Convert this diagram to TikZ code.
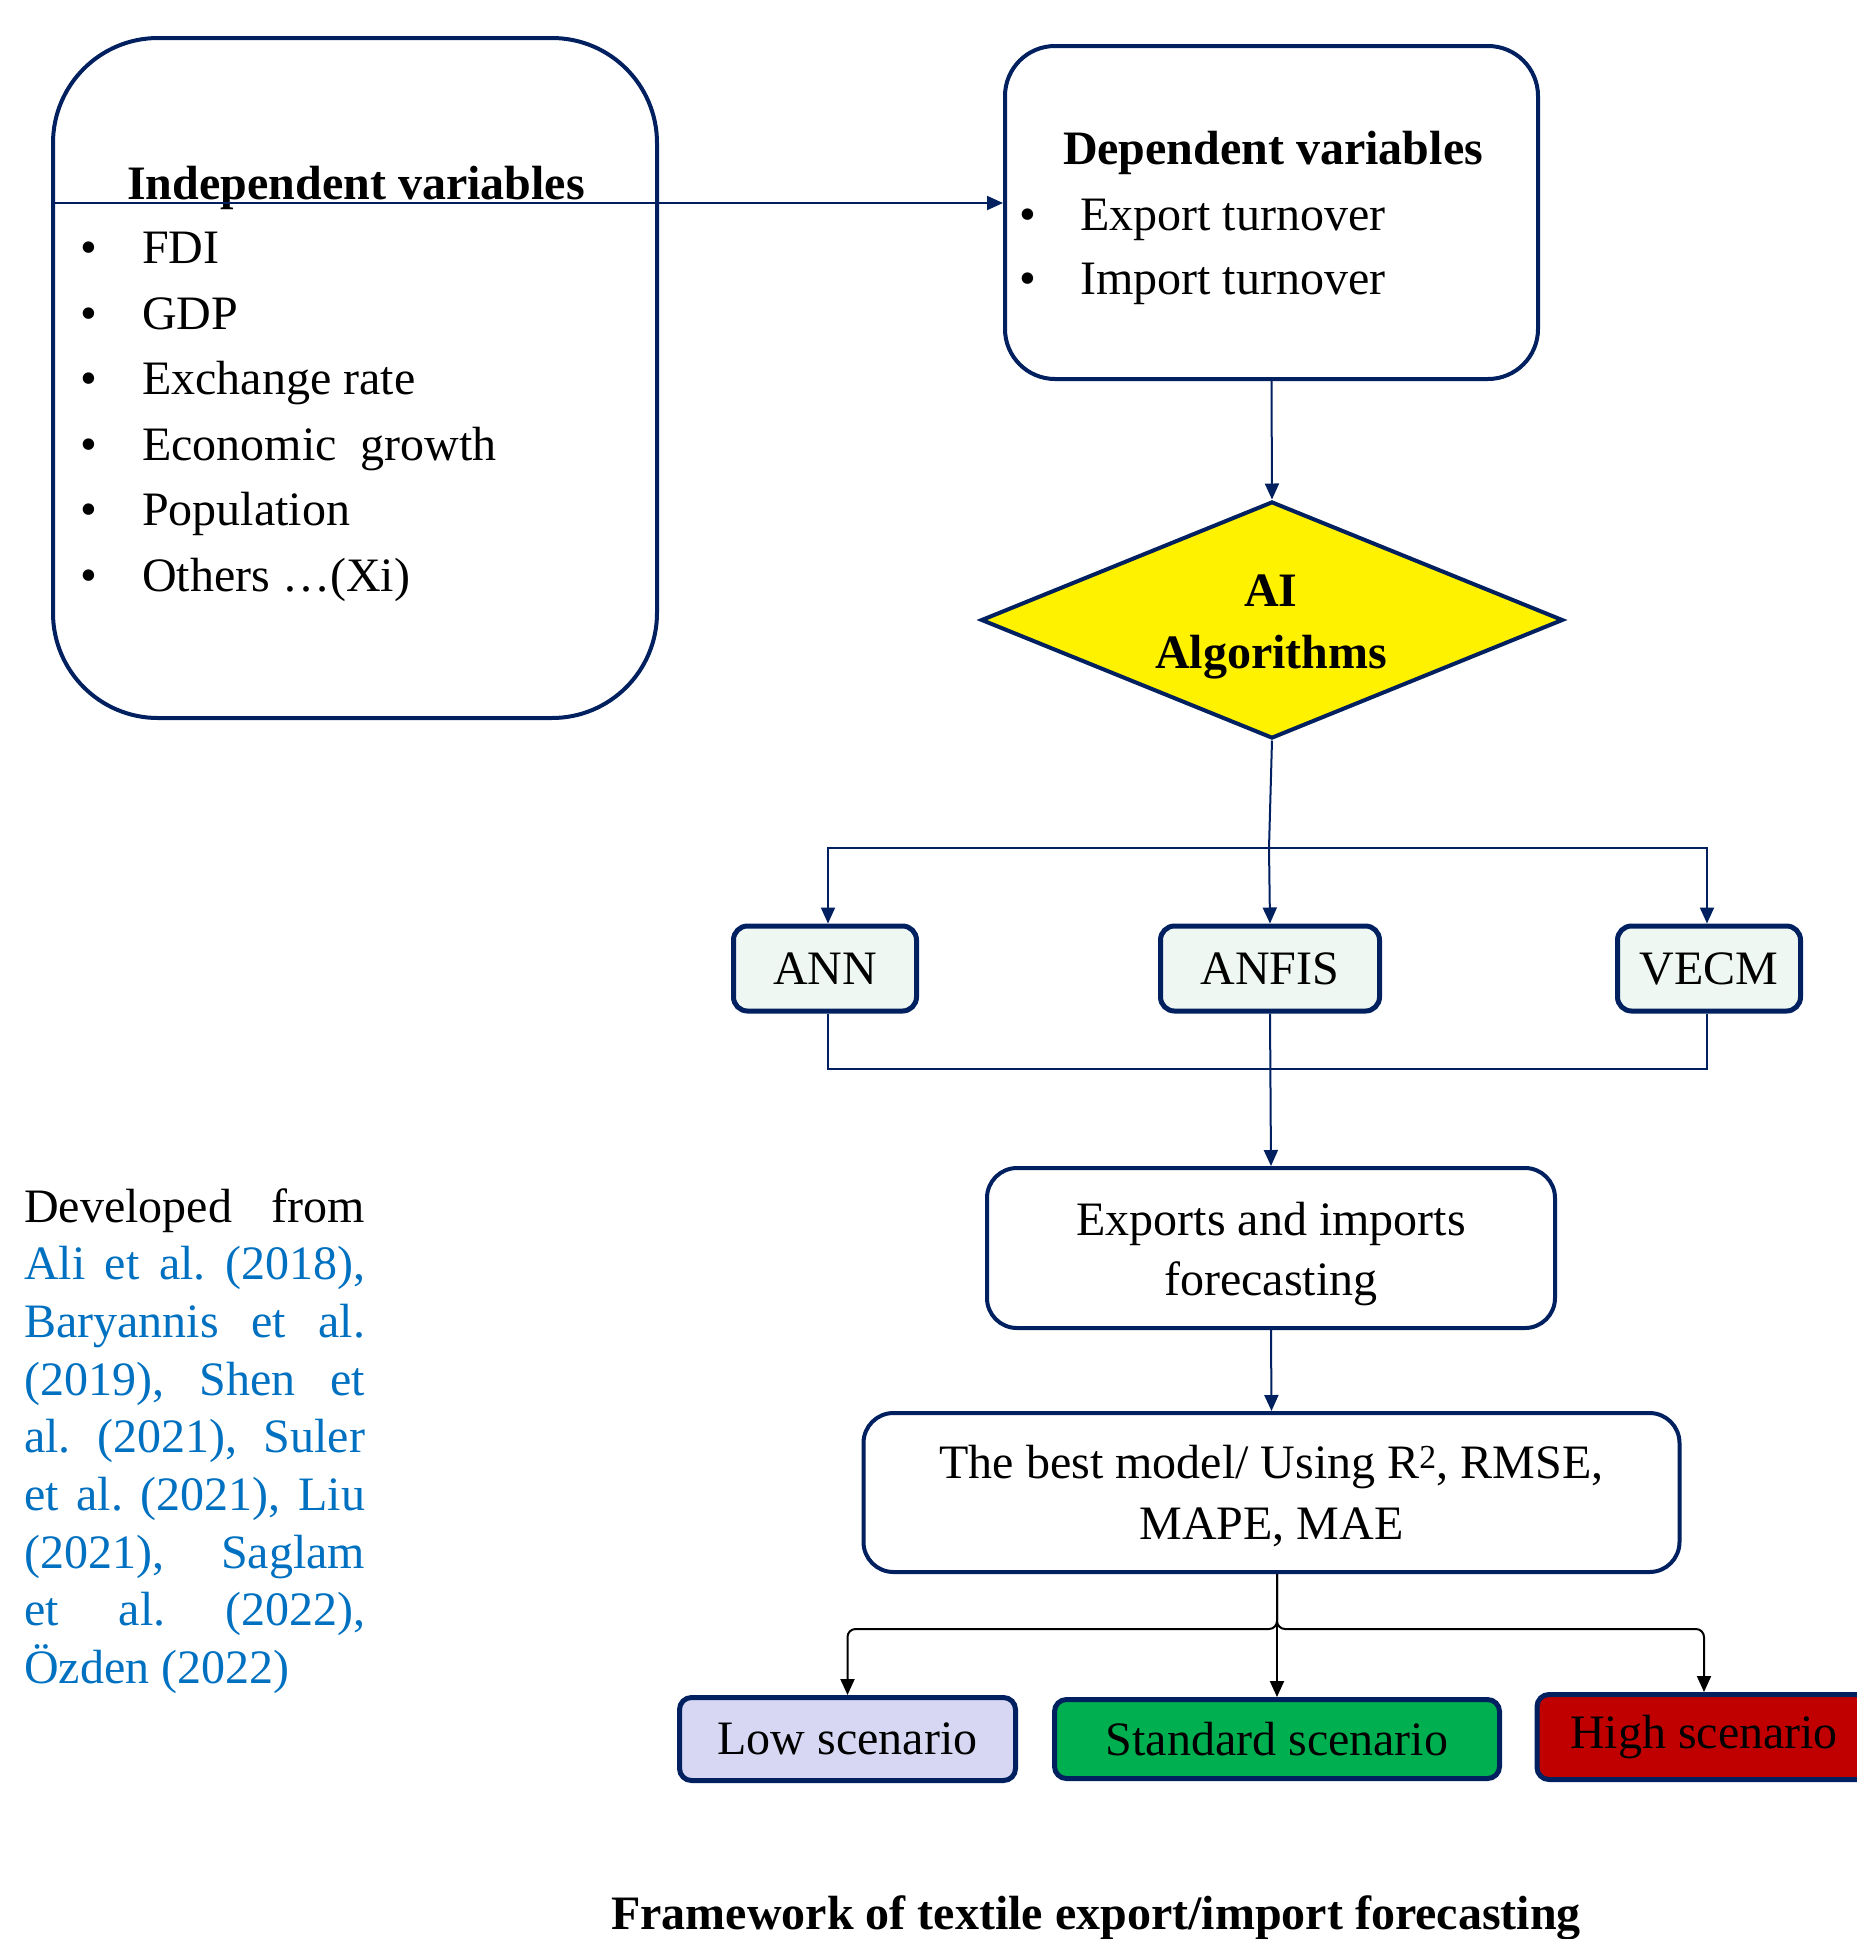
\documentclass[tikz,border=0pt]{standalone}
\usepackage{fontspec}
\setmainfont{Liberation Serif}
\usetikzlibrary{arrows.meta,shapes.geometric}
\definecolor{navy}{HTML}{002060}
\definecolor{mint}{HTML}{EEF7F2}
\definecolor{lavender}{HTML}{D7D7F4}
\definecolor{okgreen}{HTML}{00B050}
\definecolor{darkred}{HTML}{C00000}
\definecolor{refblue}{HTML}{0070C0}
\newcommand\jline[1]{\makebox[341pt][s]{#1}}
\frenchspacing
\begin{document}
\begin{tikzpicture}[x=1pt,y=-1pt,
  every node/.style={inner sep=0pt, font=\fontsize{48}{60}\selectfont},
  bold/.style={font=\fontsize{48}{60}\selectfont\bfseries},
  bigbox/.style={draw=navy, line width=4pt, rectangle, fill=white},
  smallbox/.style={draw=navy, line width=5pt, rectangle, rounded corners=14pt, minimum height=85pt},
  conn/.style={draw=navy, line width=2pt},
  arr/.style={conn, -{Triangle[length=16pt,width=14pt]}},
  barr/.style={draw=black, line width=2pt, -{Triangle[length=16pt,width=14pt]}},
  txt/.style={anchor=base west},
  ctxt/.style={anchor=base},
]
\useasboundingbox (0,0) rectangle (1857,1939);

% boxes
\node[bigbox, rounded corners=105pt, minimum width=604pt, minimum height=680pt] (indep) at (355,378) {};
\node[bigbox, rounded corners=50pt, minimum width=533pt, minimum height=333pt] (dep) at (1271.5,212.5) {};
\node[draw=navy, line width=4pt, shape=diamond, fill=yellow, minimum width=582pt, minimum height=237pt] (ai) at (1272,620) {};
\node[smallbox, fill=mint, minimum width=183pt] (ann) at (825,968.5) {ANN};
\node[smallbox, fill=mint, minimum width=219pt] (anfis) at (1270,968.5) {ANFIS};
\node[smallbox, fill=mint, minimum width=183pt] (vecm) at (1709,968.5) {VECM};
\node[bigbox, rounded corners=30pt, minimum width=568pt, minimum height=160pt] (fore) at (1271,1248) {};
\node[bigbox, rounded corners=30pt, minimum width=816pt, minimum height=159pt] (best) at (1271.5,1492.5) {};
\node[smallbox, fill=lavender, rounded corners=12pt, minimum width=336pt, minimum height=83pt] (low) at (847.5,1739) {Low scenario};
\node[smallbox, fill=okgreen, rounded corners=12pt, minimum width=445pt, minimum height=79pt] (std) at (1277,1739) {Standard scenario};
\node[smallbox, fill=darkred, rounded corners=12pt, minimum width=334pt, minimum height=85pt] (high) at (1704,1737) {High scenario};

% box texts
\node[ctxt] (f1) at (1271,1235) {Exports and imports};
\node[ctxt] (f2) at (1271,1295) {forecasting};
\node[ctxt] (b1) at (1271.5,1478) {The best model/ Using R\textsuperscript{2}, RMSE,};
\node[ctxt] (b2) at (1271.5,1539) {MAPE, MAE};

% independent variables text
\node[bold, ctxt] (indtitle) at (356,199) {Independent variables};
\node[ctxt] (ib1) at (89,263) {\textbullet};
\node[txt] (i1) at (142,263) {FDI};
\node[ctxt] (ib2) at (89,329) {\textbullet};
\node[txt] (i2) at (142,329) {GDP};
\node[ctxt] (ib3) at (89,394) {\textbullet};
\node[txt] (i3) at (142,394) {Exchange rate};
\node[ctxt] (ib4) at (89,460) {\textbullet};
\node[txt] (i4) at (142,460) {Economic\ \ growth};
\node[ctxt] (ib5) at (89,525) {\textbullet};
\node[txt] (i5) at (142,525) {Population};
\node[ctxt] (ib6) at (89,591) {\textbullet};
\node[txt] (i6) at (142,591) {Others \dots(Xi)};

% dependent variables text
\node[bold, ctxt] (deptitle) at (1273,164) {Dependent variables};
\node[ctxt] (db1) at (1028,230) {\textbullet};
\node[txt] (d1) at (1080,230) {Export turnover};
\node[ctxt] (db2) at (1028,294) {\textbullet};
\node[txt] (d2) at (1080,294) {Import turnover};

% AI text
\node[bold, ctxt] (ai1) at (1271,606) {AI};
\node[bold, ctxt] (ai2) at (1271,668) {Algorithms};

% left reference text
\node[txt] (r1) at (24,1222) {\jline{Developed from}};
\node[txt, text=refblue] (r2) at (24,1279.7) {\jline{Ali et al. (2018),}};
\node[txt, text=refblue] (r3) at (24,1337.4) {\jline{Baryannis et al.}};
\node[txt, text=refblue] (r4) at (24,1395.1) {\jline{(2019), Shen et}};
\node[txt, text=refblue] (r5) at (24,1452.8) {\jline{al. (2021), Suler}};
\node[txt, text=refblue] (r6) at (24,1510.5) {\jline{et al. (2021), Liu}};
\node[txt, text=refblue] (r7) at (24,1568.2) {\jline{(2021), Saglam}};
\node[txt, text=refblue] (r8) at (24,1625.9) {\jline{et al. (2022),}};
\node[txt, text=refblue] (r9) at (24,1683.6) {Özden (2022)};

% caption
\node[bold, ctxt] (cap) at (1096,1929) {Framework of textile export/import forecasting};

% connectors
\coordinate (hl) at (0,203);
\draw[arr] (indep.west |- hl) -- (dep.west |- hl);
\draw[arr] (dep.south) -- (ai.north);
\coordinate (split) at (1269,848);
\draw[conn] (ai.south) -- (split);
\draw[arr] (split) -| ([xshift=3pt]ann.north);
\draw[arr] (split) -| ([xshift=-2pt]vecm.north);
\draw[arr] (split) -- (anfis.north);
\coordinate (merge) at (1270,1069);
\draw[conn] ([xshift=3pt]ann.south) |- (merge) -| ([xshift=-2pt]vecm.south);
\draw[arr] (anfis.south) -- (fore.north);
\draw[arr] (fore.south) -- (best.north);
\coordinate (bsplit) at (1277,1629);
\draw[barr] (std.north |- best.south) -- (std.north);
\draw[barr, rounded corners=8pt] (std.north |- best.south) -- (bsplit) -| (low.north);
\draw[barr, rounded corners=8pt] (std.north |- best.south) -- (bsplit) -| (high.north);
\end{tikzpicture}
\end{document}
